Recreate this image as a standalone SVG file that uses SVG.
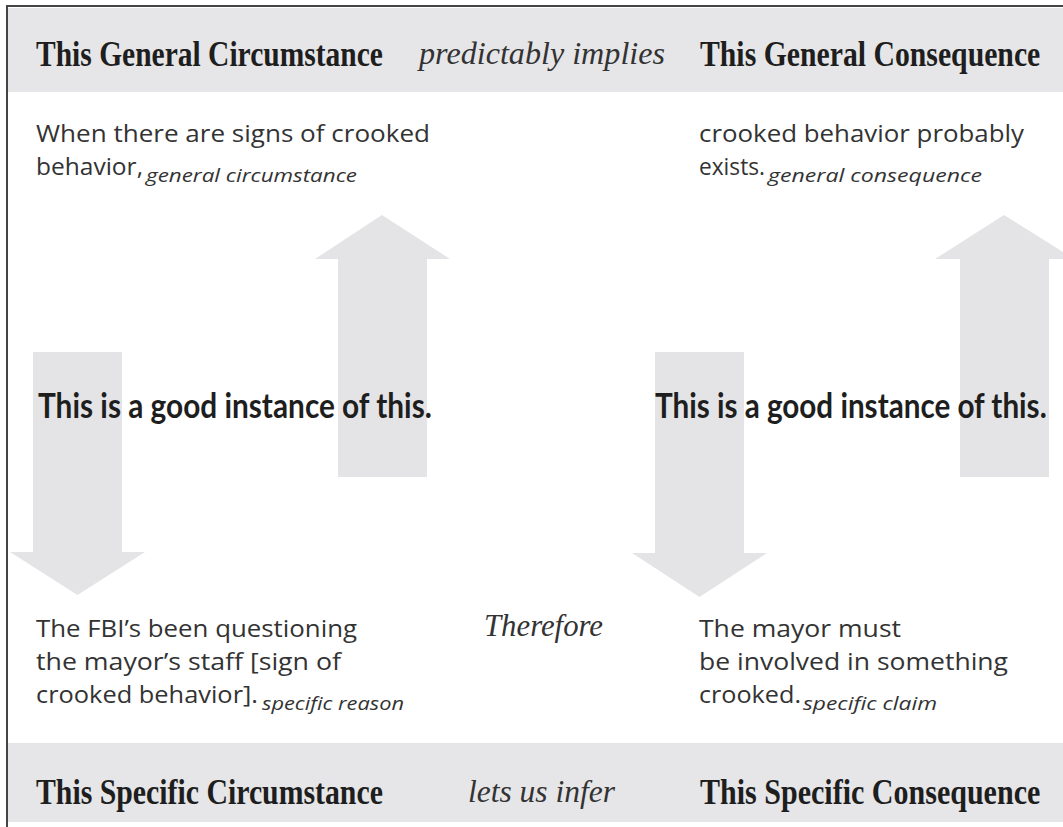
<svg xmlns="http://www.w3.org/2000/svg" width="1063" height="827" viewBox="0 0 1063 827">
  <style>
    .band { fill: #e6e6e8; }
    .arrow { fill: #e4e4e6; }
    .head { font-family: "Liberation Serif", "DejaVu Serif", serif; font-weight: bold; font-size: 36px; fill: #1e1e1e; }
    .conn { font-family: "Liberation Serif", "DejaVu Serif", serif; font-style: italic; font-size: 32px; fill: #333; }
    .body { font-family: "Open Sans", Lato, sans-serif; font-size: 23.5px; fill: #333; }
    .sub { font-family: "Open Sans", Lato, sans-serif; font-style: italic; font-size: 18.5px; fill: #333; }
    .inst { font-family: Lato, "Open Sans", sans-serif; font-weight: bold; font-size: 34px; fill: #1e1e1e; }
  </style>
  <rect x="0" y="0" width="1063" height="827" fill="#ffffff"/>
  <g id="frame">
    <rect class="band" x="8" y="8" width="1055" height="84"/>
    <rect class="band" x="8" y="743" width="1055" height="79"/>
    <line x1="7" y1="5" x2="7" y2="827" stroke="#444" stroke-width="2"/>
    <line x1="6" y1="6" x2="1063" y2="6" stroke="#444" stroke-width="2"/>
  </g>
  <g id="connectors">
    <polygon class="arrow" points="382,215 450,259 427,259 427,477 338,477 338,259 315,259"/>
    <polygon class="arrow" points="1004,215 1074,259 1049,259 1049,477 960,477 960,259 935,259"/>
    <polygon class="arrow" points="33,352 122,352 122,552 145,552 77.5,595 10,552 33,552"/>
    <polygon class="arrow" points="655,352 744,352 744,553 767,553 699.5,597 632,553 655,553"/>
  </g>
  <g id="header-top">
    <text class="head" transform="translate(36 66) scale(0.82 1)" x="0" y="0" textLength="423" lengthAdjust="spacingAndGlyphs">This General Circumstance</text>
    <text class="conn" x="419" y="64" textLength="246" lengthAdjust="spacingAndGlyphs">predictably implies</text>
    <text class="head" transform="translate(700 66) scale(0.82 1)" x="0" y="0" textLength="415" lengthAdjust="spacingAndGlyphs">This General Consequence</text>
  </g>
  <g id="general-circumstance">
    <text class="body" x="36" y="142" textLength="394" lengthAdjust="spacingAndGlyphs">When there are signs of crooked</text>
    <text class="body" x="36" y="175" textLength="107" lengthAdjust="spacingAndGlyphs">behavior,</text>
    <text class="sub" x="146" y="182" textLength="211" lengthAdjust="spacingAndGlyphs">general circumstance</text>
  </g>
  <g id="general-consequence">
    <text class="body" x="699" y="142" textLength="325" lengthAdjust="spacingAndGlyphs">crooked behavior probably</text>
    <text class="body" x="699" y="175" textLength="66" lengthAdjust="spacingAndGlyphs">exists.</text>
    <text class="sub" x="768" y="182" textLength="214" lengthAdjust="spacingAndGlyphs">general consequence</text>
  </g>
  <g id="instance-left">
    <text class="inst" transform="translate(38 418) scale(0.72 1)" x="0" y="0" textLength="547" lengthAdjust="spacingAndGlyphs">This is a good instance of this.</text>
  </g>
  <g id="instance-right">
    <text class="inst" transform="translate(655 418) scale(0.72 1)" x="0" y="0" textLength="544" lengthAdjust="spacingAndGlyphs">This is a good instance of this.</text>
  </g>
  <g id="specific-reason">
    <text class="body" x="36" y="637" textLength="321" lengthAdjust="spacingAndGlyphs">The FBI’s been questioning</text>
    <text class="body" x="36" y="670" textLength="305" lengthAdjust="spacingAndGlyphs">the mayor’s staff [sign of</text>
    <text class="body" x="36" y="703" textLength="222" lengthAdjust="spacingAndGlyphs">crooked behavior].</text>
    <text class="sub" x="262" y="710" textLength="142" lengthAdjust="spacingAndGlyphs">specific reason</text>
  </g>
  <g id="therefore">
    <text class="conn" x="484" y="636" textLength="119" lengthAdjust="spacingAndGlyphs">Therefore</text>
  </g>
  <g id="specific-claim">
    <text class="body" x="699" y="637" textLength="202" lengthAdjust="spacingAndGlyphs">The mayor must</text>
    <text class="body" x="699" y="670" textLength="309" lengthAdjust="spacingAndGlyphs">be involved in something</text>
    <text class="body" x="699" y="703" textLength="102" lengthAdjust="spacingAndGlyphs">crooked.</text>
    <text class="sub" x="803" y="710" textLength="134" lengthAdjust="spacingAndGlyphs">specific claim</text>
  </g>
  <g id="header-bottom">
    <text class="head" transform="translate(36 804) scale(0.82 1)" x="0" y="0" textLength="423" lengthAdjust="spacingAndGlyphs">This Specific Circumstance</text>
    <text class="conn" x="468" y="802" textLength="147" lengthAdjust="spacingAndGlyphs">lets us infer</text>
    <text class="head" transform="translate(700 804) scale(0.82 1)" x="0" y="0" textLength="415" lengthAdjust="spacingAndGlyphs">This Specific Consequence</text>
  </g>
</svg>
